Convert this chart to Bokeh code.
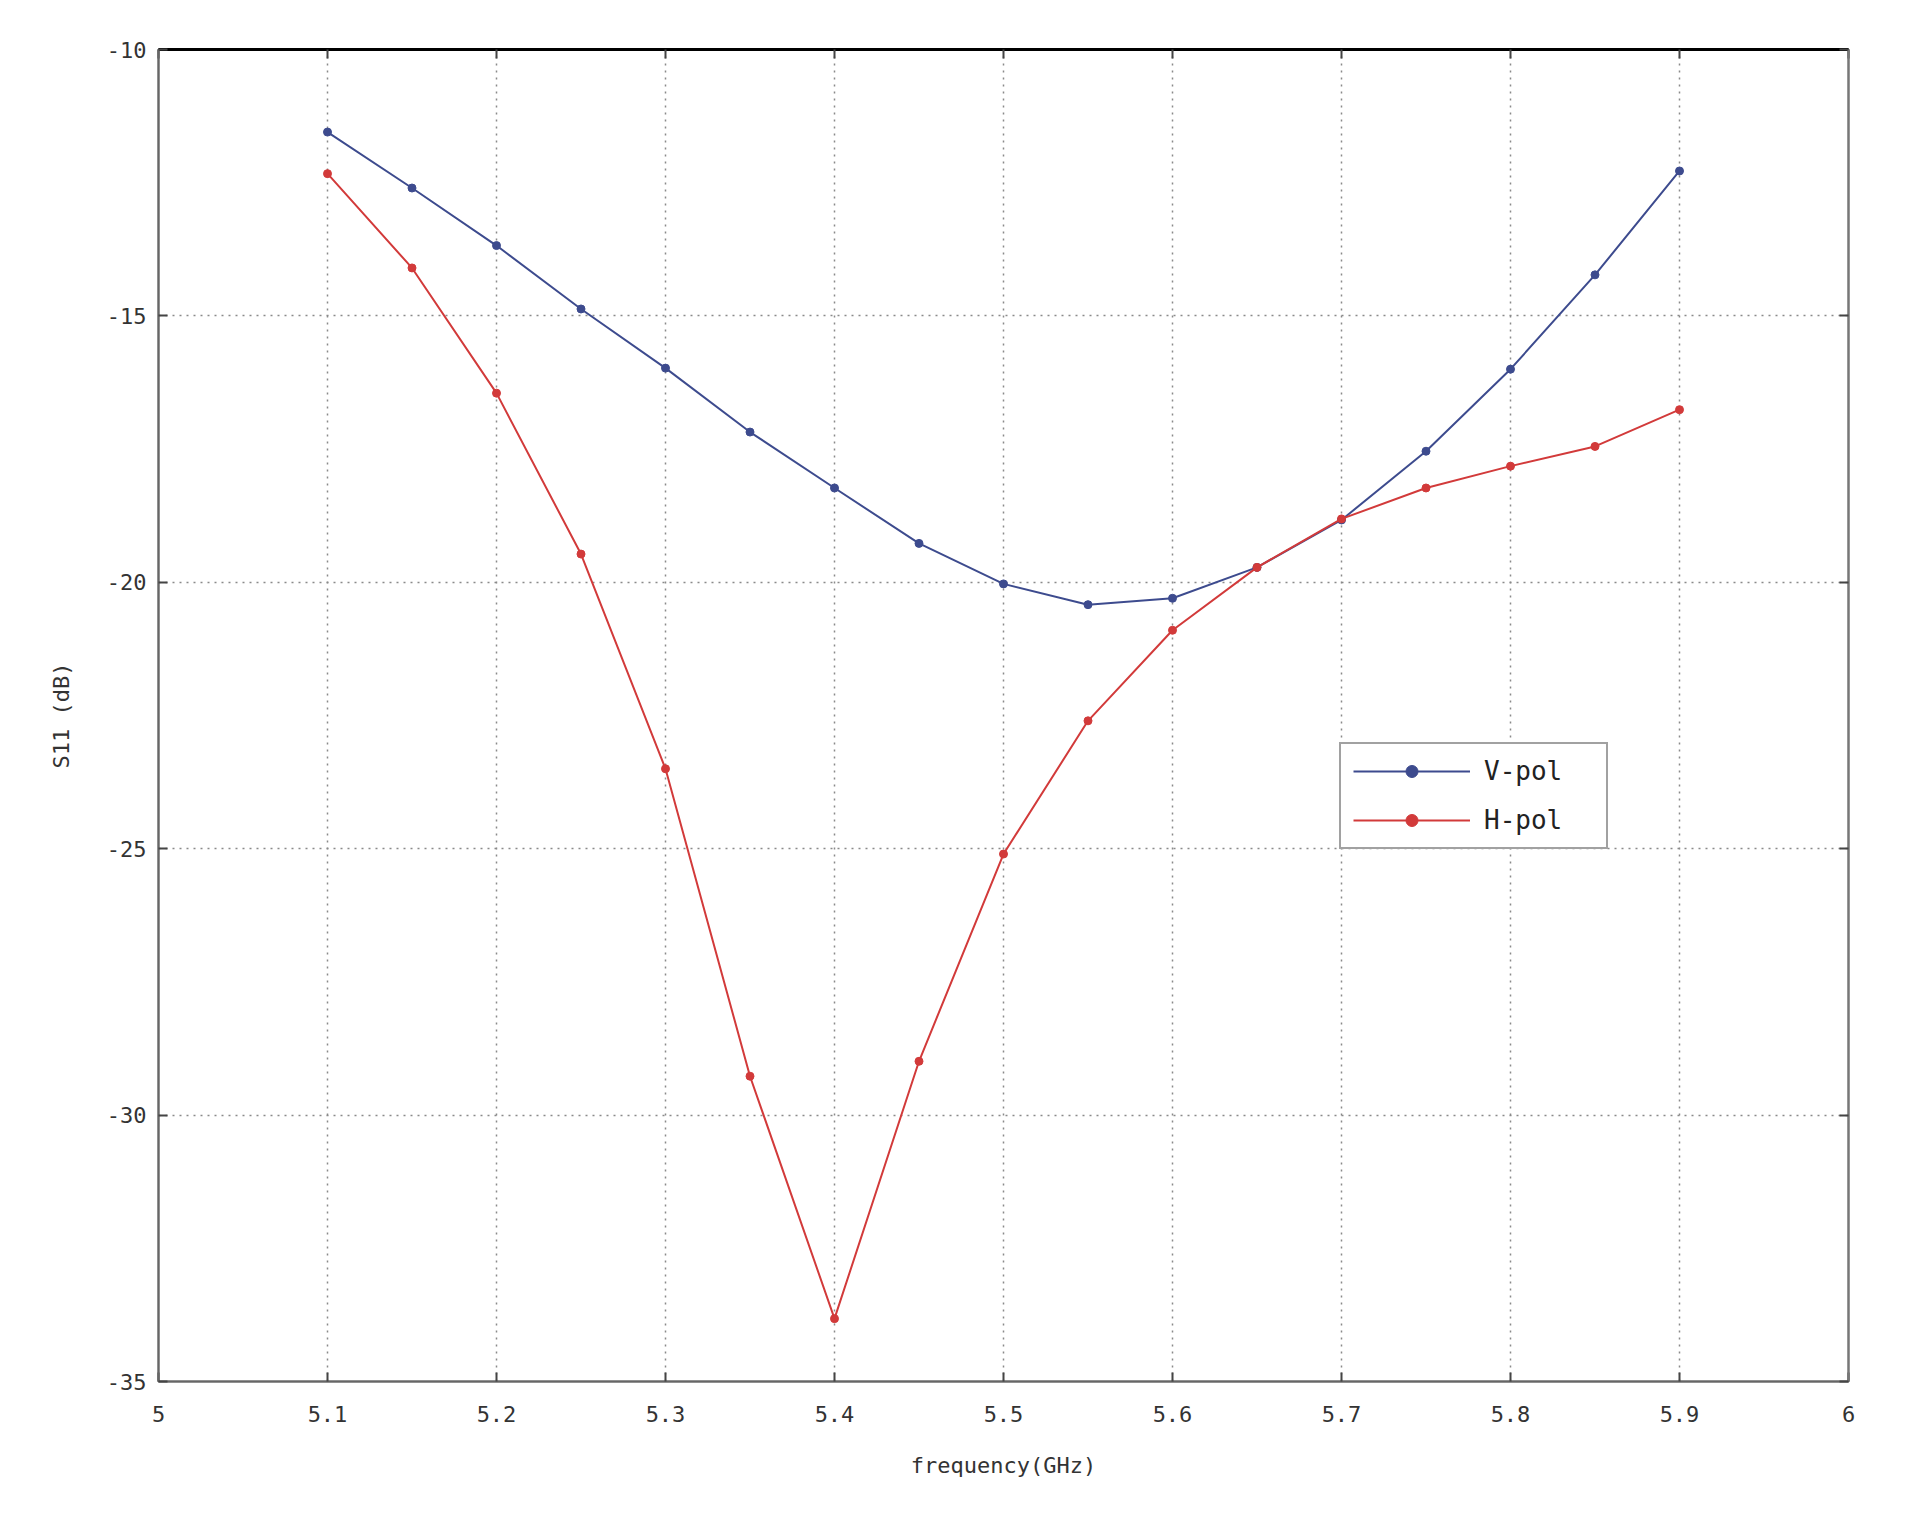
from bokeh.plotting import figure
from bokeh.models import FixedTicker, LinearAxis, Legend, LegendItem
from bokeh.embed import file_html
from bokeh.resources import INLINE

freq = [5.10, 5.15, 5.20, 5.25, 5.30, 5.35, 5.40, 5.45, 5.50, 5.55, 5.60,
        5.65, 5.70, 5.75, 5.80, 5.85, 5.90]
v_pol = [-11.55, -12.60, -13.68, -14.87, -15.98, -17.18, -18.23, -19.27, -20.03,
         -20.42, -20.30, -19.72, -18.83, -17.54, -16.00, -14.23, -12.28]
h_pol = [-12.33, -14.10, -16.45, -19.47, -23.50, -29.27, -33.82, -28.99, -25.10,
         -22.60, -20.90, -19.72, -18.81, -18.23, -17.82, -17.45, -16.76]

x_ticks = [5.0, 5.1, 5.2, 5.3, 5.4, 5.5, 5.6, 5.7, 5.8, 5.9, 6.0]
x_tick_labels = ["5", "5.1", "5.2", "5.3", "5.4", "5.5", "5.6", "5.7", "5.8", "5.9", "6"]
y_ticks = [-35, -30, -25, -20, -15, -10]
y_tick_labels = ["-35", "-30", "-25", "-20", "-15", "-10"]

FONT = "DejaVu Sans Mono"
TXT = "#333333"
BLUE = "#3d4b8e"
RED = "#d23a3a"

p = figure(width=1920, height=1529, x_range=(5, 6), y_range=(-35, -10),
           output_backend="svg", toolbar_location=None,
           min_border_left=158, min_border_right=72,
           min_border_top=49, min_border_bottom=148,
           background_fill_color="white", border_fill_color="white")
p.outline_line_color = "#777777"
p.outline_line_width = 2

# main axes
for ax, ticks, labels in ((p.xaxis[0], x_ticks, x_tick_labels), (p.yaxis[0], y_ticks, y_tick_labels)):
    ax.ticker = FixedTicker(ticks=ticks)
    ax.major_label_overrides = {t: l for t, l in zip(ticks, labels)}
    ax.major_tick_in = 9
    ax.major_tick_out = 0
    ax.minor_tick_in = 0
    ax.minor_tick_out = 0
    ax.axis_line_color = "#666666"
    ax.axis_line_width = 2
    ax.major_tick_line_color = "#444444"
    ax.major_tick_line_width = 2
    ax.major_label_text_font = FONT
    ax.major_label_text_font_size = "22px"
    ax.major_label_text_color = TXT
    ax.axis_label_text_font = FONT
    ax.axis_label_text_font_size = "22px"
    ax.axis_label_text_font_style = "normal"
    ax.axis_label_text_color = TXT

p.xaxis.axis_label = "frequency(GHz)"
p.yaxis.axis_label = "S11 (dB)"
p.xaxis.major_label_standoff = 24
p.xaxis.axis_label_standoff = 28
p.yaxis.major_label_standoff = 12
p.yaxis.axis_label_standoff = 30

# box axes (top black line, right gray line) with inward ticks and blank labels
top = LinearAxis(ticker=FixedTicker(ticks=x_ticks),
                 major_label_overrides={t: "" for t in x_ticks},
                 axis_line_color="black", axis_line_width=3,
                 major_tick_in=9, major_tick_out=0, minor_tick_in=0, minor_tick_out=0,
                 major_tick_line_color="#444444", major_tick_line_width=2,
                 major_label_standoff=0)
right = LinearAxis(ticker=FixedTicker(ticks=y_ticks),
                   major_label_overrides={t: "" for t in y_ticks},
                   axis_line_color="#777777", axis_line_width=2,
                   major_tick_in=9, major_tick_out=0, minor_tick_in=0, minor_tick_out=0,
                   major_tick_line_color="#444444", major_tick_line_width=2,
                   major_label_standoff=0)
p.add_layout(top, "above")
p.add_layout(right, "right")

# grid
p.xgrid.ticker = FixedTicker(ticks=x_ticks)
p.ygrid.ticker = FixedTicker(ticks=y_ticks)
for g in (p.xgrid[0], p.ygrid[0]):
    g.grid_line_color = "#8a8a8a"
    g.grid_line_dash = "2 5"
    g.grid_line_width = 1.5
    g.grid_line_alpha = 1.0

lv = p.line(freq, v_pol, line_color=BLUE, line_width=2)
sv = p.scatter(freq, v_pol, size=8, fill_color=BLUE, line_color=BLUE)
lh = p.line(freq, h_pol, line_color=RED, line_width=2)
sh = p.scatter(freq, h_pol, size=8, fill_color=RED, line_color=RED)

legend = Legend(items=[LegendItem(label="V-pol", renderers=[lv, sv]),
                       LegendItem(label="H-pol", renderers=[lh, sh])],
                location=(1181, 532))
legend.label_text_font = FONT
legend.label_text_font_size = "26px"
legend.label_text_color = "#222222"
legend.glyph_width = 117
legend.glyph_height = 30
legend.label_height = 30
legend.label_width = 110
legend.label_standoff = 14
legend.spacing = 19
legend.padding = 12
legend.margin = 0
legend.border_line_color = "#444444"
legend.border_line_width = 2
legend.background_fill_color = "white"
legend.background_fill_alpha = 1.0
p.add_layout(legend, "center")

open("out.html", "w").write(file_html(p, INLINE))
